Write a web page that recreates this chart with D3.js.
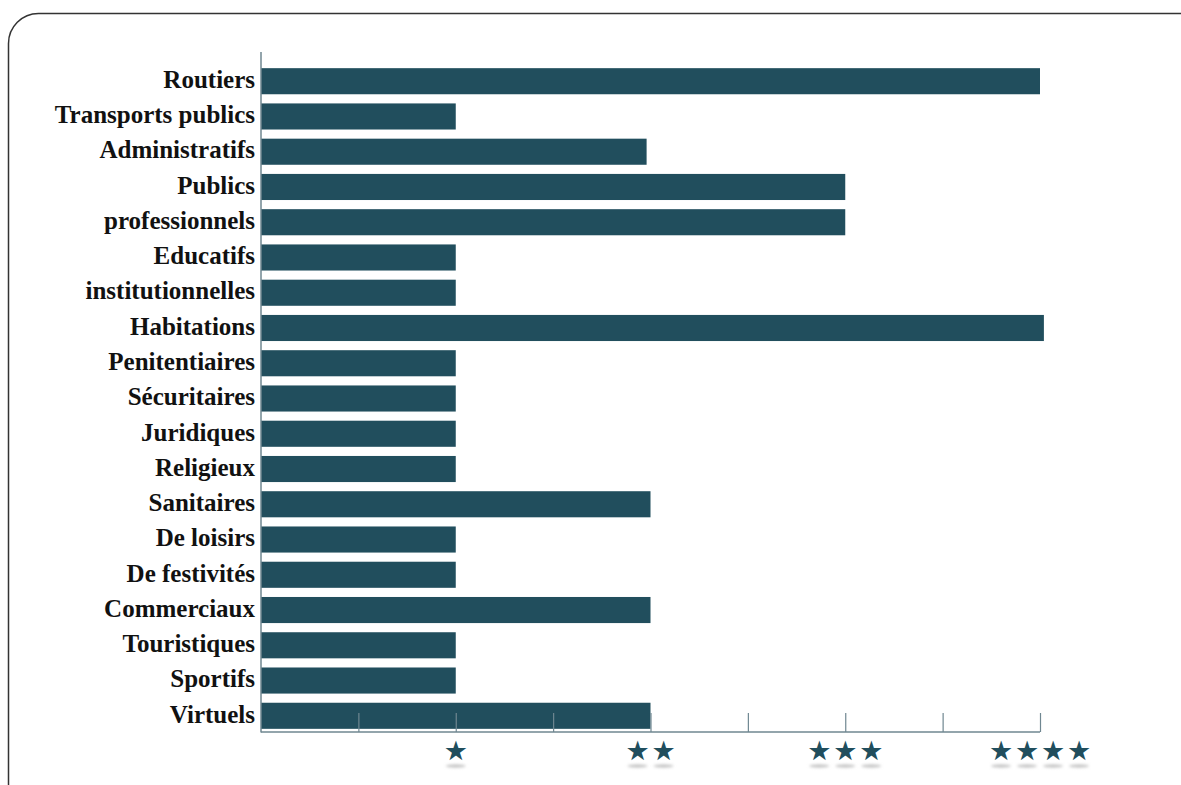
<!DOCTYPE html>
<html>
<head>
<meta charset="utf-8">
<script src="https://cdn.jsdelivr.net/npm/d3@7"></script>
<style>
  body { margin: 0; background: #fff; }
  svg { display: block; }
</style>
</head>
<body>
<svg id="chart" width="1181" height="785"></svg>
<script>
const categories = [
  "Routiers", "Transports publics", "Administratifs", "Publics", "professionnels",
  "Educatifs", "institutionnelles", "Habitations", "Penitentiaires", "Sécuritaires",
  "Juridiques", "Religieux", "Sanitaires", "De loisirs", "De festivités",
  "Commerciaux", "Touristiques", "Sportifs", "Virtuels"
]
const values = [
  4, 1, 1.98, 3, 3,
  1, 1, 4.02, 1, 1,
  1, 1, 2, 1, 1,
  2, 1, 1, 2
]
const tickValues = [0, 0.5, 1, 1.5, 2, 2.5, 3, 3.5, 4]
const starTicks = [1, 2, 3, 4]

const barColor = "#214e5d"
const axisColor = "#6f8791"

const svg = d3.select("#chart")

// frame round the chart
svg.append("rect")
  .attr("x", 8.5)
  .attr("y", 13.5)
  .attr("width", 1200)
  .attr("height", 800)
  .attr("rx", 30)
  .attr("fill", "none")
  .attr("stroke", "#333")
  .attr("stroke-width", 1.5)

const defs = svg.append("defs")
defs.append("filter")
  .attr("id", "blur")
  .attr("x", "-50%").attr("y", "-100%")
  .attr("width", "200%").attr("height", "300%")
  .append("feGaussianBlur")
  .attr("stdDeviation", 1.5)

const x = d3.scaleLinear().domain([0, 4]).range([261, 1040])
const y = d3.scaleBand().domain(categories).range([59, 738]).paddingInner(0.26).paddingOuter(0.26)

// bars
svg.append("g")
  .selectAll("rect")
  .data(categories)
  .enter()
  .append("rect")
  .attr("x", x(0))
  .attr("y", d => y(d))
  .attr("width", (d, i) => x(values[i]) - x(0))
  .attr("height", y.bandwidth())
  .attr("fill", barColor)

// left axis line
svg.append("line")
  .attr("x1", x(0)).attr("x2", x(0))
  .attr("y1", 52).attr("y2", 732.5)
  .attr("stroke", axisColor)
  .attr("stroke-width", 1.5)

// bottom axis, ticks pointing up
const axisG = svg.append("g")
  .attr("transform", "translate(0,732)")
  .call(d3.axisBottom(x).tickValues(tickValues).tickSize(-19).tickFormat(""))
axisG.select(".domain")
  .attr("d", "M" + x(0) + ",0H" + x(4))
  .attr("stroke", axisColor)
  .attr("stroke-width", 1.5)
axisG.selectAll(".tick line")
  .attr("stroke", axisColor)
  .attr("stroke-width", 1.2)
axisG.selectAll(".tick")
  .filter(d => d === 0)
  .remove()

// category labels
svg.append("g")
  .selectAll("text")
  .data(categories)
  .enter()
  .append("text")
  .attr("x", 255)
  .attr("y", d => y(d) + y.bandwidth() / 2)
  .attr("dy", "0.27em")
  .attr("text-anchor", "end")
  .attr("font-family", "'Liberation Serif', 'DejaVu Serif', serif")
  .attr("font-weight", "bold")
  .attr("font-size", 25)
  .attr("fill", "#111")
  .text(d => d)

// star tick labels with a faint shadow below each star
const starStep = 26
const starG = svg.append("g")
starTicks.forEach(n => {
  for (let k = 0; k < n; k++) {
    const cx = x(n) + (k - (n - 1) / 2) * starStep
    starG.append("ellipse")
      .attr("cx", cx)
      .attr("cy", 766)
      .attr("rx", 10)
      .attr("ry", 1.5)
      .attr("fill", "#bbb")
      .attr("filter", "url(#blur)")
    starG.append("text")
      .attr("x", cx)
      .attr("y", 760)
      .attr("text-anchor", "middle")
      .attr("font-family", "'DejaVu Sans', sans-serif")
      .attr("font-size", 27)
      .attr("fill", barColor)
      .text("★")
  }
})
</script>
</body>
</html>
